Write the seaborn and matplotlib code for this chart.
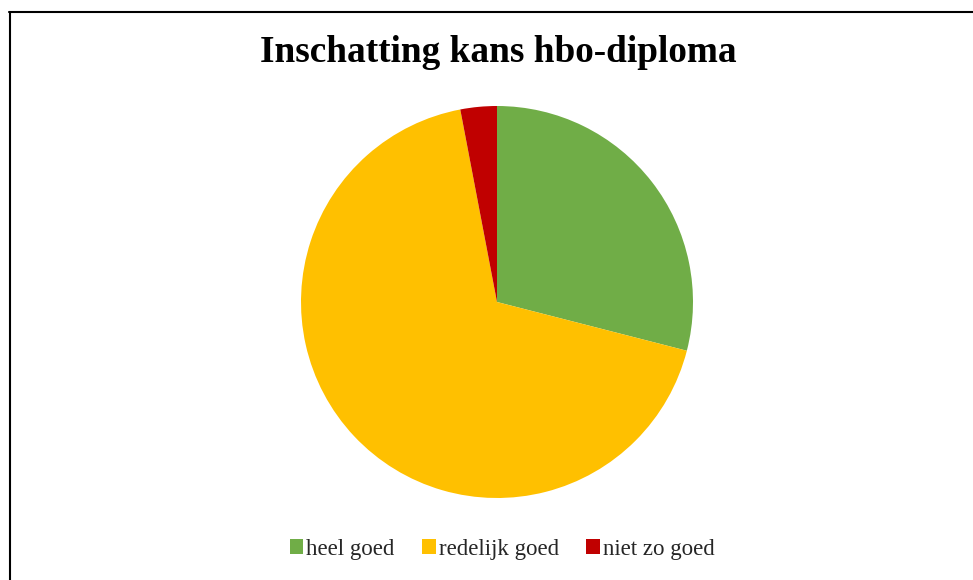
import matplotlib
matplotlib.use('Agg')
import matplotlib.pyplot as plt
from matplotlib.lines import Line2D
from matplotlib.patches import Patch
import seaborn as sns

# Gegevens
categorieen = ['heel goed', 'redelijk goed', 'niet zo goed']
aandelen = [29, 68, 3]
kleuren = ['#70AD47', '#FFC000', '#C00000']

sns.set_theme(style='white')
plt.rcParams['font.family'] = ['Liberation Serif', 'DejaVu Serif']

fig = plt.figure(figsize=(9.73, 5.8), dpi=100)
fig.patch.set_facecolor('white')

# Taart
ax = fig.add_axes([301 / 973, 82 / 580, 392 / 973, 392 / 580])
ax.pie(aandelen, colors=kleuren, startangle=90, counterclock=False,
       radius=1.0, wedgeprops=dict(linewidth=0))
ax.set_xlim(-1, 1)
ax.set_ylim(-1, 1)
ax.set_aspect('equal')
ax.axis('off')

# Titel
fig.text(498 / 973, 1 - 52 / 580, 'Inschatting kans hbo-diploma',
         ha='center', va='center', fontsize=26.8, fontweight='bold', color='black')

# Legenda
handles = [Patch(facecolor=k, edgecolor='none') for k in kleuren]
fig.legend(handles, categorieen, loc='center', bbox_to_anchor=(502 / 973, 1 - 549 / 580),
           ncol=3, frameon=False, fontsize=16.5, handlelength=0.6, handleheight=0.6,
           handletextpad=0.12, columnspacing=1.2)

# Kader
fig.add_artist(Line2D([9 / 973, 1.0], [1 - 11.5 / 580, 1 - 11.5 / 580],
                      transform=fig.transFigure, color='black', linewidth=1.5))
fig.add_artist(Line2D([9.5 / 973, 9.5 / 973], [0, 1 - 11.5 / 580],
                      transform=fig.transFigure, color='black', linewidth=1.5))

fig.savefig('out.png', dpi=100)
